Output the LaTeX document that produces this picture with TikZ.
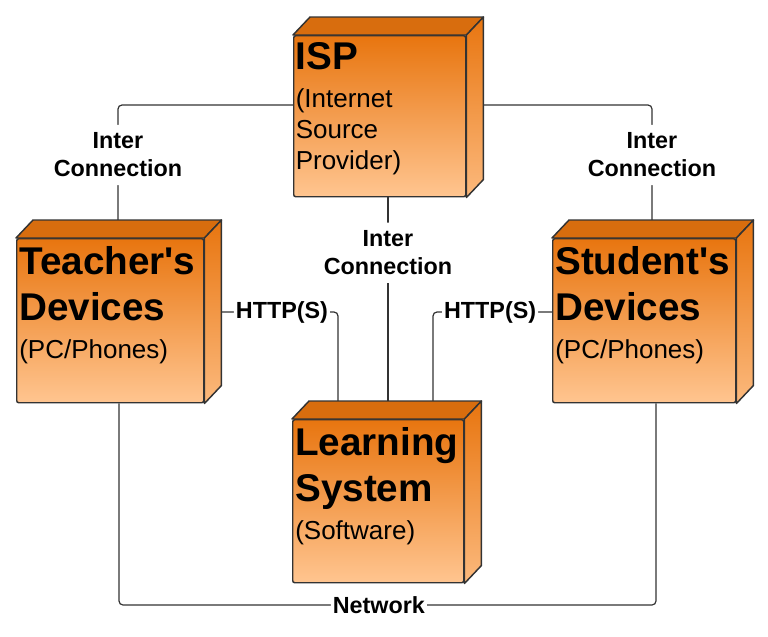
\documentclass[tikz,border=0pt]{standalone}
\usepackage{fontspec}
\setmainfont{Liberation Sans}
\usepackage{tikz}
\usetikzlibrary{positioning, calc}

\definecolor{devtop}{HTML}{E8750F}
\definecolor{devbot}{HTML}{FFC590}
\definecolor{edge}{HTML}{333333}

\newcommand{\devtitle}[1]{{\fontsize{29}{23.25}\selectfont\bfseries #1}}

\begin{document}
\begin{tikzpicture}[x=0.75pt, y=-0.75pt,
  device/.style={draw=edge, line width=1.1pt, rounded corners=1.5pt, top color=devtop, bottom color=devbot, anchor=north west, inner sep=0pt},
  devtext/.style={anchor=north west, align=left, inner sep=0pt, font={\fontsize{19.5}{23.25}\selectfont\lineskiplimit=-100pt\relax}},
  topface/.style={draw=edge, line width=1.1pt, line join=round, fill=devtop!93!black},
  sideface/.style={draw=edge, line width=1.1pt, line join=round, top color=devtop, bottom color=devbot!85!devtop},
  link/.style={draw=edge, line width=0.9pt, rounded corners=3pt},
  lbl/.style={fill=white, align=center, inner xsep=1.5pt, inner ysep=6pt, font=\fontsize{17.5}{21}\selectfont\bfseries}
]
\useasboundingbox (0,0) rectangle (768,636);

% front faces
\node[device, minimum width=129pt, minimum height=120.75pt] (isp) at (293,35) {};
\node[device, minimum width=140.25pt, minimum height=123pt] (teacher) at (16,238) {};
\node[device, minimum width=137.25pt, minimum height=123pt] (student) at (552,238) {};
\node[device, minimum width=128.25pt, minimum height=122.25pt] (lms) at (292,419) {};

% bends of the connectors
\coordinate (bendl) at (118,105);
\coordinate (bendr) at (652,105);
\coordinate (midx) at (388,300);
\coordinate (httpl) at (338,312);
\coordinate (httpr) at (433,312);
\coordinate (netl) at (119,605);
\coordinate (netr) at (656,605);

\draw[link] (isp.west |- bendl) -- (bendl) -- node[lbl, pos=0.376] (icl) {Inter\\Connection} (bendl |- teacher.north);
\draw[link] (isp.east |- bendr) -- (bendr) -- node[lbl, pos=0.376] (icr) {Inter\\Connection} (bendr |- student.north);
\draw[link] (isp.south -| midx) -- node[lbl, pos=0.25] (icm) {Inter\\Connection} (lms.north -| midx);
\draw[link] (teacher.east |- httpl) -- node[lbl, pos=0.58] (httpa) {HTTP(S)} (httpl) -- (httpl |- lms.north);
\draw[link] (student.west |- httpr) -- node[lbl, pos=0.52] (httpb) {HTTP(S)} (httpr) -- (httpr |- lms.north);
\draw[link] (teacher.south -| netl) -- (netl) -- node[lbl, pos=0.484] (net) {Network} (netr) -- (student.south -| netr);

% top and side faces
\foreach \n in {isp,teacher,student,lms}{
  \filldraw[topface] (\n.north west) -- ++(17,-18) -- ([shift={(17,-18)}]\n.north east) -- (\n.north east) -- cycle;
  \filldraw[sideface] (\n.north east) -- ++(17,-18) -- ([shift={(17,-18)}]\n.south east) -- (\n.south east) -- cycle;
}

% texts
\node[devtext] (isptext) at ([shift={(2.5,7)}]isp.north west) {\devtitle{ISP}\\[5.25pt](Internet\\Source\\Provider)};
\node[devtext] (teachertext) at ([shift={(3,8)}]teacher.north west) {\devtitle{Teacher\textquotesingle s}\\[11.25pt]\devtitle{Devices}\\[5.25pt](PC/Phones)};
\node[devtext] (studenttext) at ([shift={(3,8)}]student.north west) {\devtitle{Student\textquotesingle s}\\[11.25pt]\devtitle{Devices}\\[5.25pt](PC/Phones)};
\node[devtext] (lmstext) at ([shift={(3,8)}]lms.north west) {\devtitle{Learning}\\[11.25pt]\devtitle{System}\\[5.25pt](Software)};
\end{tikzpicture}
\end{document}
